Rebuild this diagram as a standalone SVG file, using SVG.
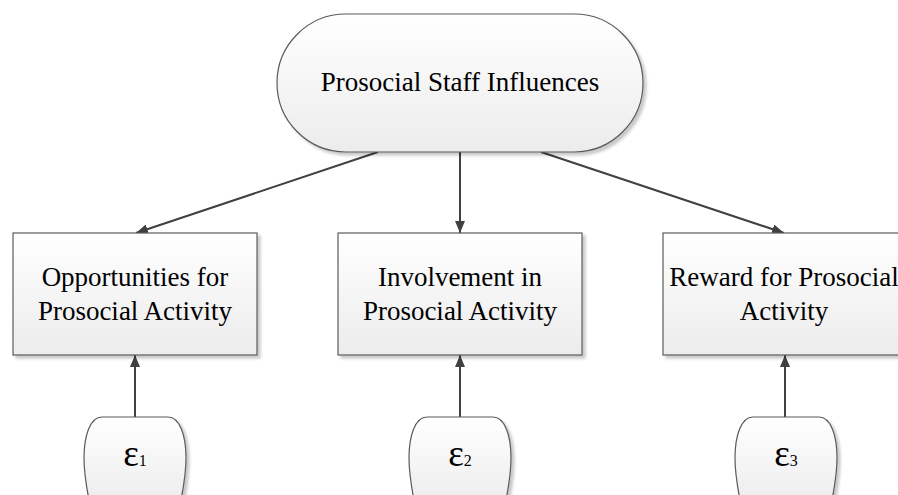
<svg xmlns="http://www.w3.org/2000/svg" width="898" height="495" viewBox="0 0 898 495">
  <defs>
    <linearGradient id="fillGrad" x1="0" y1="0" x2="0" y2="1">
      <stop offset="0" stop-color="#ffffff"/>
      <stop offset="1" stop-color="#ececec"/>
    </linearGradient>
    <filter id="shadow" x="-10%" y="-10%" width="130%" height="130%">
      <feGaussianBlur in="SourceAlpha" stdDeviation="1.5"/>
      <feOffset dx="3" dy="3" result="blur"/>
      <feComponentTransfer><feFuncA type="linear" slope="0.22"/></feComponentTransfer>
      <feMerge><feMergeNode/><feMergeNode in="SourceGraphic"/></feMerge>
    </filter>
    <marker id="arrow" viewBox="0 0 12 10" refX="12" refY="5" markerWidth="12" markerHeight="10" markerUnits="userSpaceOnUse" orient="auto">
      <path d="M0,0 L12,5 L0,10 Z" fill="#404040"/>
    </marker>
  </defs>
  <style>
    .shape { fill: url(#fillGrad); stroke: #5a5a5a; stroke-width: 1.2; filter: url(#shadow); }
    .label { font-family: "Liberation Serif", "Times New Roman", serif; fill: #000; text-anchor: middle; }
    .main { font-size: 27px; }
    .box { font-size: 27px; }
    .eps { font-size: 37px; }
    .sub { font-size: 16px; }
    .edge { stroke: #404040; stroke-width: 2; fill: none; marker-end: url(#arrow); }
  </style>

  <rect width="898" height="495" fill="#ffffff"/>

  <!-- connectors -->
  <g id="connectors">
    <line class="edge" x1="378" y1="152" x2="136" y2="233"/>
    <line class="edge" x1="460" y1="152" x2="460" y2="233"/>
    <line class="edge" x1="541" y1="152" x2="784" y2="233"/>
    <line class="edge" x1="135" y1="417" x2="135" y2="355"/>
    <line class="edge" x1="460" y1="417" x2="460" y2="355"/>
    <line class="edge" x1="785" y1="417" x2="785" y2="355"/>
  </g>

  <!-- latent factor -->
  <g id="staff-influences">
    <rect class="shape" x="277" y="14" width="366" height="138" rx="69" ry="69"/>
    <text class="label main" x="460" y="91">Prosocial Staff Influences</text>
  </g>

  <!-- indicators -->
  <g id="opportunities">
    <rect class="shape" x="13" y="233" width="244" height="122"/>
    <text class="label box" x="135" y="286">Opportunities for</text>
    <text class="label box" x="135" y="320">Prosocial Activity</text>
  </g>
  <g id="involvement">
    <rect class="shape" x="338" y="233" width="244" height="122"/>
    <text class="label box" x="460" y="286">Involvement in</text>
    <text class="label box" x="460" y="320">Prosocial Activity</text>
  </g>
  <g id="reward">
    <rect class="shape" x="663" y="233" width="244" height="122"/>
    <text class="label box" x="784" y="286">Reward for Prosocial</text>
    <text class="label box" x="784" y="320">Activity</text>
  </g>

  <!-- error terms -->
  <g id="error-1">
    <path class="shape" d="M102,417 H168 C180,417 186,436 186,458 C186,476 183,490 180,505 H90 C87,490 84,476 84,458 C84,436 90,417 102,417 Z"/>
    <text class="label" x="135" y="466"><tspan class="eps">ε</tspan><tspan class="sub">1</tspan></text>
  </g>
  <g id="error-2">
    <path class="shape" d="M427,417 H493 C505,417 511,436 511,458 C511,476 508,490 505,505 H415 C412,490 409,476 409,458 C409,436 415,417 427,417 Z"/>
    <text class="label" x="460" y="466"><tspan class="eps">ε</tspan><tspan class="sub">2</tspan></text>
  </g>
  <g id="error-3">
    <path class="shape" d="M753,417 H819 C831,417 837,436 837,458 C837,476 834,490 831,505 H741 C738,490 735,476 735,458 C735,436 741,417 753,417 Z"/>
    <text class="label" x="786" y="466"><tspan class="eps">ε</tspan><tspan class="sub">3</tspan></text>
  </g>
</svg>
